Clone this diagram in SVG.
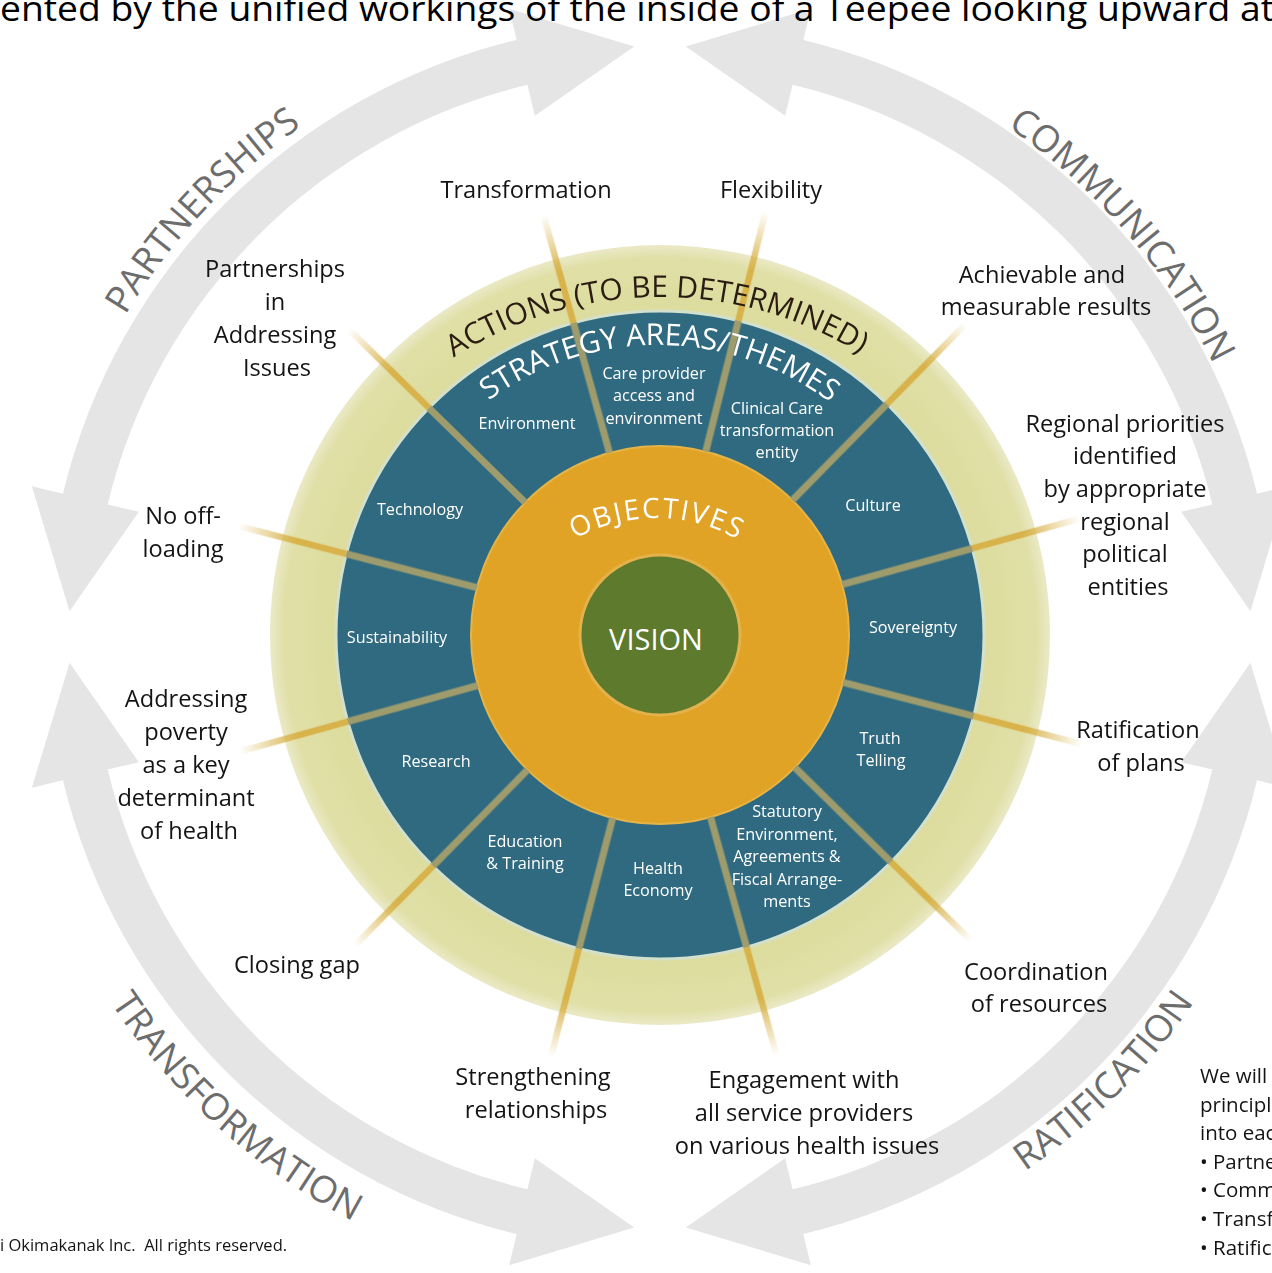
<svg xmlns="http://www.w3.org/2000/svg" width="1272" height="1273" viewBox="0 0 1272 1273">
<defs>
<style>
.f{font-family:"Open Sans","Noto Sans",sans-serif}
.lbl{font-family:"Open Sans","Noto Sans",sans-serif;font-size:23.6px;fill:#141414;text-anchor:middle}
.in{font-family:"Open Sans","Noto Sans",sans-serif;font-size:16.2px;fill:#ffffff;text-anchor:middle}
.ring{font-family:"Open Sans","Noto Sans",sans-serif;font-size:37px;fill:#6d6d6d;text-anchor:middle}
.arrow{fill:#e5e5e5}
.sp-in{stroke:#9e9b6c;stroke-width:7}
.sp-out{stroke:#d8b24a;stroke-width:6.5}
</style>
<radialGradient id="fade" cx="660" cy="635" r="436" gradientUnits="userSpaceOnUse">
<stop offset="0.86" stop-color="#fff"/>
<stop offset="1" stop-color="#000"/>
</radialGradient>
<mask id="spokeMask" maskUnits="userSpaceOnUse" x="0" y="0" width="1272" height="1273">
<rect x="0" y="0" width="1272" height="1273" fill="url(#fade)"/>
</mask>
<radialGradient id="olive" cx="660" cy="635" r="392" gradientUnits="userSpaceOnUse">
<stop offset="0.82" stop-color="#dddc9e"/>
<stop offset="0.96" stop-color="#e0dfa6"/>
<stop offset="1" stop-color="#ecebcc"/>
</radialGradient>
<path id="pPart" d="M 51.99 496.63 A 624 624 0 0 1 477.56 40.27"/>
<path id="pComm" d="M 860.88 53.61 A 617 617 0 0 1 1265.67 519.27"/>
<path id="pTrans" d="M 32.30 840.95 A 660 660 0 0 0 522.78 1282.58"/>
<path id="pRat" d="M 827.46 1261.96 A 647 647 0 0 0 1284.96 804.46"/>
<path id="pAct" d="M 358.98 443.82 A 382 382 0 0 1 943.88 423.39"/>
<path id="pStrat" d="M 410.32 488 A 286 286 0 0 1 905.68 488"/>
<path id="pObj" d="M 500.01 627.22 A 166 166 0 0 1 809.91 621.81"/>
</defs>

<rect x="0" y="0" width="1272" height="1273" fill="#ffffff"/>

<g id="cycle-arrows">
<path class="arrow" d="M 685.78 46.56 L 810.81 8.85 L 803.34 39.96 A 614 614 0 0 1 1257.04 493.66 L 1288.15 486.19 L 1250.44 611.22 L 1181.19 511.87 L 1212.31 504.40 A 568 568 0 0 0 792.60 84.69 L 785.13 115.81 Z"/>
<path class="arrow" d="M 1250.44 662.78 L 1288.15 787.81 L 1257.04 780.34 A 614 614 0 0 1 803.34 1234.04 L 810.81 1265.15 L 685.78 1227.44 L 785.13 1158.19 L 792.60 1189.31 A 568 568 0 0 0 1212.31 769.60 L 1181.19 762.13 Z"/>
<path class="arrow" d="M 634.22 1227.44 L 509.19 1265.15 L 516.66 1234.04 A 614 614 0 0 1 62.96 780.34 L 31.85 787.81 L 69.56 662.78 L 138.81 762.13 L 107.69 769.60 A 568 568 0 0 0 527.40 1189.31 L 534.87 1158.19 Z"/>
<path class="arrow" d="M 69.56 611.22 L 31.85 486.19 L 62.96 493.66 A 614 614 0 0 1 516.66 39.96 L 509.19 8.85 L 634.22 46.56 L 534.87 115.81 L 527.40 84.69 A 568 568 0 0 0 107.69 504.40 L 138.81 511.87 Z"/>
</g>

<g id="cycle-labels">
<text class="ring"><textPath href="#pPart" startOffset="50%">PARTNERSHIPS</textPath></text>
<text class="ring"><textPath href="#pComm" startOffset="50%">COMMUNICATION</textPath></text>
<text class="ring"><textPath href="#pTrans" startOffset="50%">TRANSFORMATION</textPath></text>
<text class="ring"><textPath href="#pRat" startOffset="50%">RATIFICATION</textPath></text>
</g>

<g id="header">
<text class="f" x="0" y="21" font-size="34" fill="#000" textLength="1274" lengthAdjust="spacingAndGlyphs">ented by the unified workings of the inside of a Teepee looking upward at</text>
</g>

<g id="actions-ring">
<circle cx="660" cy="635" r="390" fill="url(#olive)"/>
</g>
<g id="strategy-ring">
<circle cx="660" cy="635" r="324" fill="#2f6a80" stroke="#d3e0cc" stroke-width="3"/>
</g>
<g id="objectives">
<circle cx="660" cy="635" r="189" fill="#e0a326" stroke="#e6b446" stroke-width="2"/>
</g>
<g id="vision">
<circle cx="660" cy="635" r="80" fill="#5d7a2d" stroke="#e4b24a" stroke-width="3"/>
<text class="f" x="656" y="650" font-size="29" fill="#fff" text-anchor="middle">VISION</text>
</g>

<g id="spokes">
<g mask="url(#spokeMask)">
<line class="sp-out" x1="660" y1="311" x2="660" y2="200" transform="rotate(-15.5 660 635)"/>
<line class="sp-out" x1="660" y1="311" x2="660" y2="200" transform="rotate(14 660 635)"/>
<line class="sp-out" x1="660" y1="311" x2="660" y2="200" transform="rotate(44.5 660 635)"/>
<line class="sp-out" x1="660" y1="311" x2="660" y2="200" transform="rotate(74.5 660 635)"/>
<line class="sp-out" x1="660" y1="311" x2="660" y2="200" transform="rotate(104.5 660 635)"/>
<line class="sp-out" x1="660" y1="311" x2="660" y2="200" transform="rotate(134.5 660 635)"/>
<line class="sp-out" x1="660" y1="311" x2="660" y2="200" transform="rotate(164.5 660 635)"/>
<line class="sp-out" x1="660" y1="311" x2="660" y2="200" transform="rotate(194.5 660 635)"/>
<line class="sp-out" x1="660" y1="311" x2="660" y2="200" transform="rotate(224.5 660 635)"/>
<line class="sp-out" x1="660" y1="311" x2="660" y2="200" transform="rotate(254.5 660 635)"/>
<line class="sp-out" x1="660" y1="311" x2="660" y2="200" transform="rotate(284.5 660 635)"/>
<line class="sp-out" x1="660" y1="311" x2="660" y2="200" transform="rotate(314.5 660 635)"/>
</g>
<line class="sp-in" x1="660" y1="446" x2="660" y2="311" transform="rotate(-15.5 660 635)"/>
<line class="sp-in" x1="660" y1="446" x2="660" y2="311" transform="rotate(14 660 635)"/>
<line class="sp-in" x1="660" y1="446" x2="660" y2="311" transform="rotate(44.5 660 635)"/>
<line class="sp-in" x1="660" y1="446" x2="660" y2="311" transform="rotate(74.5 660 635)"/>
<line class="sp-in" x1="660" y1="446" x2="660" y2="311" transform="rotate(104.5 660 635)"/>
<line class="sp-in" x1="660" y1="446" x2="660" y2="311" transform="rotate(134.5 660 635)"/>
<line class="sp-in" x1="660" y1="446" x2="660" y2="311" transform="rotate(164.5 660 635)"/>
<line class="sp-in" x1="660" y1="446" x2="660" y2="311" transform="rotate(194.5 660 635)"/>
<line class="sp-in" x1="660" y1="446" x2="660" y2="311" transform="rotate(224.5 660 635)"/>
<line class="sp-in" x1="660" y1="446" x2="660" y2="311" transform="rotate(254.5 660 635)"/>
<line class="sp-in" x1="660" y1="446" x2="660" y2="311" transform="rotate(284.5 660 635)"/>
<line class="sp-in" x1="660" y1="446" x2="660" y2="311" transform="rotate(314.5 660 635)"/>
</g>

<g id="ring-titles">
<text class="f" font-size="30" fill="#2b1c12" text-anchor="middle"><textPath href="#pAct" startOffset="51.5%">ACTIONS (TO BE DETERMINED)</textPath></text>
<text class="f" font-size="30" fill="#ffffff" text-anchor="middle"><textPath href="#pStrat" startOffset="50.3%">STRATEGY AREAS/THEMES</textPath></text>
<text class="f" font-size="28" fill="#ffffff" text-anchor="middle" letter-spacing="2"><textPath href="#pObj" startOffset="51%">OBJECTIVES</textPath></text>
</g>

<g id="strategy-areas">
<text class="in" x="527" y="429">Environment</text>
<text class="in" x="654" y="379">Care provider</text>
<text class="in" x="654" y="401">access and</text>
<text class="in" x="654" y="424">environment</text>
<text class="in" x="777" y="414">Clinical Care</text>
<text class="in" x="777" y="436">transformation</text>
<text class="in" x="777" y="458">entity</text>
<text class="in" x="420" y="515">Technology</text>
<text class="in" x="873" y="511">Culture</text>
<text class="in" x="397" y="643">Sustainability</text>
<text class="in" x="913" y="633">Sovereignty</text>
<text class="in" x="436" y="767">Research</text>
<text class="in" x="880" y="744">Truth</text>
<text class="in" x="881" y="766">Telling</text>
<text class="in" x="525" y="847">Education</text>
<text class="in" x="525" y="869">&amp; Training</text>
<text class="in" x="658" y="874">Health</text>
<text class="in" x="658" y="896">Economy</text>
<text class="in" x="787" y="817">Statutory</text>
<text class="in" x="787" y="840">Environment,</text>
<text class="in" x="787" y="862">Agreements &amp;</text>
<text class="in" x="787" y="885">Fiscal Arrange-</text>
<text class="in" x="787" y="907">ments</text>
</g>

<g id="action-labels">
<text class="lbl" x="526" y="198">Transformation</text>
<text class="lbl" x="771" y="198">Flexibility</text>
<text class="lbl" x="1042" y="283">Achievable and</text>
<text class="lbl" x="1046" y="315">measurable results</text>
<text class="lbl" x="1125" y="432">Regional priorities</text>
<text class="lbl" x="1125" y="464">identified</text>
<text class="lbl" x="1125" y="497">by appropriate</text>
<text class="lbl" x="1125" y="530">regional</text>
<text class="lbl" x="1125" y="562">political</text>
<text class="lbl" x="1128" y="595">entities</text>
<text class="lbl" x="1138" y="738">Ratification</text>
<text class="lbl" x="1141" y="771">of plans</text>
<text class="lbl" x="1036" y="980">Coordination</text>
<text class="lbl" x="1039" y="1012">of resources</text>
<text class="lbl" x="804" y="1088">Engagement with</text>
<text class="lbl" x="804" y="1121">all service providers</text>
<text class="lbl" x="807" y="1154">on various health issues</text>
<text class="lbl" x="533" y="1085">Strengthening</text>
<text class="lbl" x="536" y="1118">relationships</text>
<text class="lbl" x="297" y="973">Closing gap</text>
<text class="lbl" x="186" y="707">Addressing</text>
<text class="lbl" x="186" y="740">poverty</text>
<text class="lbl" x="186" y="773">as a key</text>
<text class="lbl" x="186" y="806">determinant</text>
<text class="lbl" x="189" y="839">of health</text>
<text class="lbl" x="183" y="524">No off-</text>
<text class="lbl" x="183" y="557">loading</text>
<text class="lbl" x="275" y="277">Partnerships</text>
<text class="lbl" x="275" y="310">in</text>
<text class="lbl" x="275" y="343">Addressing</text>
<text class="lbl" x="277" y="376">Issues</text>
</g>

<g id="principles-note">
<text class="f" font-size="20.5" fill="#141414">
<tspan x="1200" y="1083">We will</tspan>
<tspan x="1200" y="1112">principles</tspan>
<tspan x="1200" y="1140">into each</tspan>
<tspan x="1200" y="1169">• Partnerships</tspan>
<tspan x="1200" y="1197">• Communication</tspan>
<tspan x="1200" y="1226">• Transformation</tspan>
<tspan x="1200" y="1255">• Ratification</tspan>
</text>
</g>

<g id="copyright">
<text class="f" x="0" y="1251" font-size="16.5" fill="#141414" style="white-space:pre">i Okimakanak Inc.  All rights reserved.</text>
</g>
</svg>
